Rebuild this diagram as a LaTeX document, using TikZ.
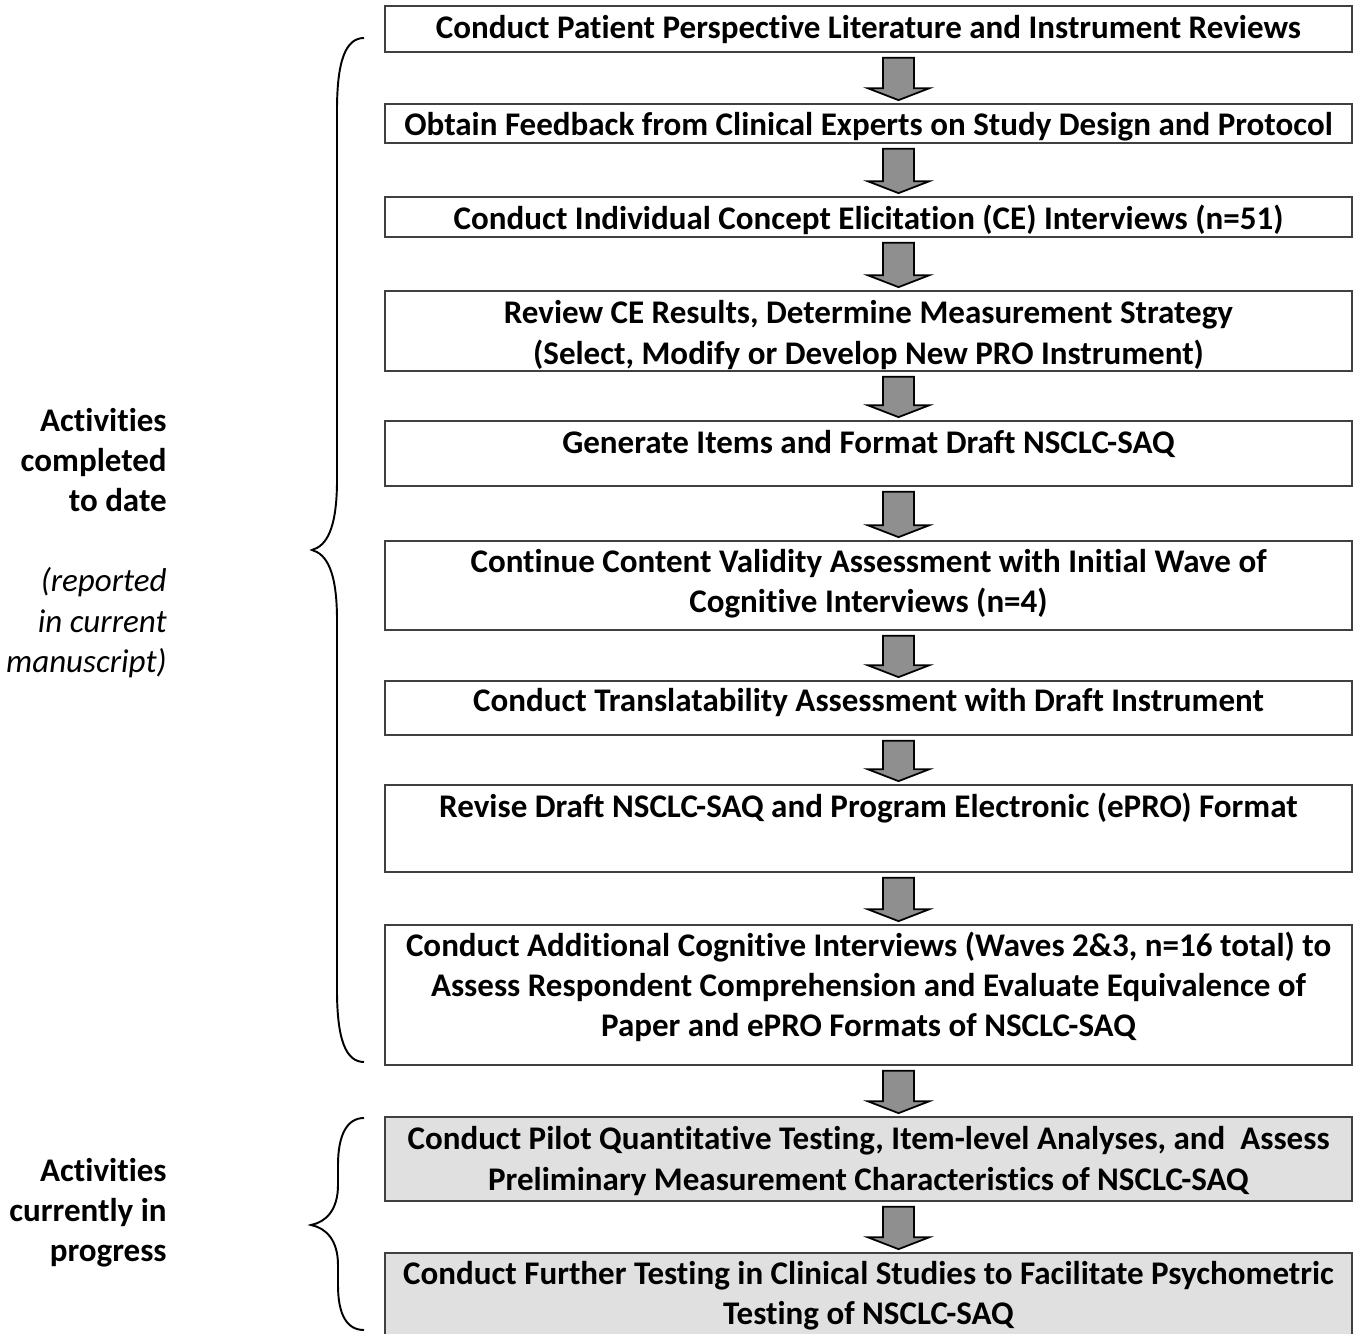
\documentclass[tikz,border=0pt]{standalone}
\usepackage{fontspec}
\setmainfont{Carlito}[Ligatures=NoCommon]
\usetikzlibrary{calc}
\definecolor{boxline}{HTML}{404040}
\definecolor{arrowgray}{HTML}{8F8F8F}
\definecolor{pendinggray}{HTML}{E0E0E0}
\tikzset{
	stepbox/.style={draw=boxline,line width=1pt,minimum width=19.34cm,inner sep=0pt},
	pendingbox/.style={stepbox,fill=pendinggray},
	steptext/.style={align=center,inner sep=0pt,font=\fontsize{18.8}{22.8}\selectfont\bfseries},
	sidetext/.style={align=right,inner sep=0pt,anchor=east,font=\fontsize{18.8}{22.8}\selectfont},
	blockarrow/.style={draw=black,fill=arrowgray,line width=1pt,line join=miter},
	bracepath/.style={draw=black,line width=1.1pt}
}
% block arrow between two boxes
\newcommand{\steparrow}[2]{%
	\path ($(#1.south)+(17.1pt,-2.8pt)$) coordinate (as) ($(#2.north)+(17.1pt,1.7pt)$) coordinate (ae);
	\draw[blockarrow] let \p1=(as), \p2=(ae) in
		(\x1-8.8pt,\y1) -- (\x1+8.8pt,\y1) -- (\x1+8.8pt,\y2+6.8pt) -- (\x1+17.6pt,\y2+6.8pt)
		-- (\x1,\y2) -- (\x1-17.6pt,\y2+6.8pt) -- (\x1-8.8pt,\y2+6.8pt) -- cycle;
}
\begin{document}
\begin{tikzpicture}[x=0.02cm,y=-0.02cm]
		\useasboundingbox (0,0) rectangle (1360,1334);
		\clip (0,0) rectangle (1360,1334);
		%%%% Boxes
		\node[stepbox,minimum height=0.92cm] (b1) at (868.5,29) {};
		\node[stepbox,minimum height=0.78cm] (b2) at (868.5,123.5) {};
		\node[stepbox,minimum height=0.80cm] (b3) at (868.5,217) {};
		\node[stepbox,minimum height=1.60cm] (b4) at (868.5,331) {};
		\node[stepbox,minimum height=1.30cm] (b5) at (868.5,453.5) {};
		\node[stepbox,minimum height=1.78cm] (b6) at (868.5,585.5) {};
		\node[stepbox,minimum height=1.08cm] (b7) at (868.5,708) {};
		\node[stepbox,minimum height=1.74cm] (b8) at (868.5,828.5) {};
		\node[stepbox,minimum height=2.80cm] (b9) at (868.5,995) {};
		\node[pendingbox,minimum height=1.68cm] (b10) at (868.5,1159) {};
		\node[pendingbox,minimum height=1.94cm] (b11) at (868.5,1301.5) {};
		% box texts
		\node[steptext] (t1) at (868.5,30) {Conduct Patient Perspective Literature and Instrument Reviews};
		\node[steptext] (t2) at (868.5,127) {Obtain Feedback from Clinical Experts on Study Design and Protocol};
		\node[steptext] (t3) at (868.5,220) {Conduct Individual Concept Elicitation (CE) Interviews (n=51)};
		\node[steptext] (t4) at (868.5,335) {Review CE Results, Determine Measurement Strategy\\(Select, Modify or Develop New PRO Instrument)};
		\node[steptext] (t5) at (868.5,444) {Generate Items and Format Draft NSCLC-SAQ};
		\node[steptext] (t6) at (868.5,584) {Continue Content Validity Assessment with Initial Wave of\\Cognitive Interviews (n=4)};
		\node[steptext] (t7) at (868.5,703) {Conduct Translatability Assessment with Draft Instrument};
		\node[steptext] (t8) at (868.5,808) {Revise Draft NSCLC-SAQ and Program Electronic (ePRO) Format};
		\node[steptext] (t9) at (868.5,987) {Conduct Additional Cognitive Interviews (Waves 2\&3, n=16 total) to\\Assess Respondent Comprehension and Evaluate Equivalence of\\Paper and ePRO Formats of NSCLC-SAQ};
		\node[steptext] (t10) at (868.5,1161) {Conduct Pilot Quantitative Testing, Item-level Analyses, and\ \ Assess\\Preliminary Measurement Characteristics of NSCLC-SAQ};
		\node[steptext] (t11) at (868.5,1296) {Conduct Further Testing in Clinical Studies to Facilitate Psychometric\\Testing of NSCLC-SAQ};
		%%%% Arrows
		\foreach \a/\b in {b1/b2,b2/b3,b3/b4,b4/b5,b5/b6,b6/b7,b7/b8,b8/b9,b9/b10,b10/b11} {
			\steparrow{\a}{\b}
		}
		%%%% Braces
		\draw[bracepath] (364,38) .. controls (346,38) and (337,60) .. (337,110) -- (337,480)
			.. controls (337,530) and (326,546) .. (312,550) .. controls (326,554) and (337,570) .. (337,620)
			-- (337,990) .. controls (337,1040) and (346,1062) .. (364,1062);
		\draw[bracepath] (364,1118) .. controls (347,1118) and (338,1135) .. (338,1165) -- (338,1185)
			.. controls (338,1210) and (326,1222) .. (311,1225) .. controls (326,1228) and (338,1240) .. (338,1265)
			-- (338,1285) .. controls (338,1315) and (347,1330) .. (364,1330);
		% side labels
		\node[sidetext] (done) at (167,543) {\bfseries Activities\\\bfseries completed\\\bfseries to date\\[22.8pt]\itshape (reported\\\itshape in current\\\itshape manuscript)};
		\node[sidetext] (ongoing) at (167,1213) {\bfseries Activities\\\bfseries currently in\\\bfseries progress};
\end{tikzpicture}
\end{document}
